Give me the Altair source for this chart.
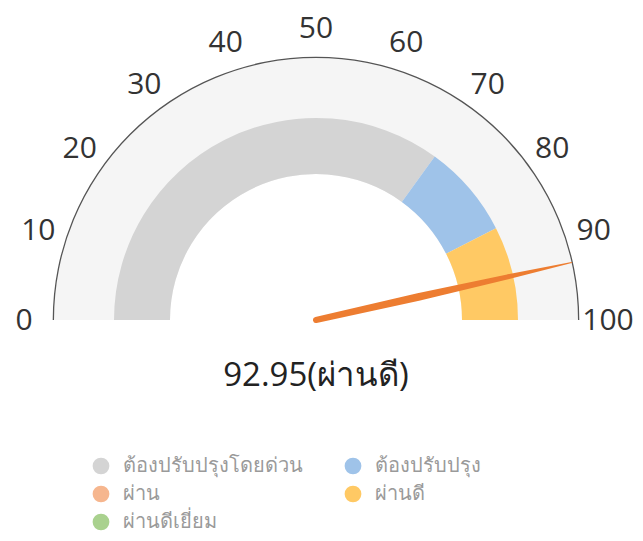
import math
import altair as alt
import pandas as pd

# ---- data ----
categories = ["ต้องปรับปรุงโดยด่วน", "ต้องปรับปรุง", "ผ่าน", "ผ่านดี", "ผ่านดีเยี่ยม"]
band_start = [0, 70, 85, 85, 100]
band_end = [70, 85, 85, 100, 100]
colors = ["#d4d4d4", "#9fc3e9", "#f6b68e", "#ffc964", "#a9d18e"]
# legend is filled column by column: grey, salmon, green | blue, yellow
legend_order = ["ต้องปรับปรุงโดยด่วน", "ผ่าน", "ผ่านดีเยี่ยม", "ต้องปรับปรุง", "ผ่านดี"]
tick_values = [0, 10, 20, 30, 40, 50, 60, 70, 80, 90, 100]
score = 92.95
status = "ผ่านดี"
scale_min, scale_max = 0, 100

# ---- layout (styles) ----
W, H = 627, 517
PAD = {"left": 0, "top": 8, "right": 0, "bottom": 0}
cx, cy = 308, 304
R_OUT = 262
R_BAND_OUT, R_BAND_IN = 202, 146
R_LABEL = 292
FONT = "Open Sans"

theta_scale = alt.Scale(domain=[scale_min, scale_max], range=[-math.pi / 2, math.pi / 2])

bands = pd.DataFrame({"cat": categories, "start": band_start, "end": band_end})
bg = pd.DataFrame({"start": [scale_min], "end": [scale_max]})
ticks = pd.DataFrame({"v": tick_values, "label": [str(t) for t in tick_values]})

ang = math.pi * (1 - (score - scale_min) / (scale_max - scale_min))
needle = pd.DataFrame({
    "t": [0.0, 0.4, 0.75, 1.0],
    "w": [6.0, 7.5, 5.0, 1.0],
})
needle["x"] = needle["t"] * math.cos(ang)
needle["y"] = needle["t"] * math.sin(ang)
title_df = pd.DataFrame({"txt": [f"{score}({status})"]})

color_map = dict(zip(categories, colors))

X = alt.value(cx)
Y = alt.value(cy)

background = alt.Chart(bg).mark_arc(fill="#f5f5f5").encode(
    theta=alt.Theta("start:Q", scale=theta_scale, stack=None),
    theta2="end:Q",
    radius=alt.value(R_BAND_IN),
    radius2=alt.value(R_OUT),
    x=X, y=Y,
)

outline = alt.Chart(bg).mark_arc(fill="#555555").encode(
    theta=alt.Theta("start:Q", scale=theta_scale, stack=None),
    theta2="end:Q",
    radius=alt.value(R_OUT),
    radius2=alt.value(R_OUT + 1.3),
    x=X, y=Y,
)

band_layer = alt.Chart(bands).mark_arc().encode(
    theta=alt.Theta("start:Q", scale=theta_scale, stack=None),
    theta2="end:Q",
    radius=alt.value(R_BAND_IN),
    radius2=alt.value(R_BAND_OUT),
    x=X, y=Y,
    color=alt.Color(
        "cat:N",
        scale=alt.Scale(domain=legend_order, range=[color_map[c] for c in legend_order]),
        legend=alt.Legend(
            title=None,
            orient="none",
            legendX=83,
            legendY=440,
            columns=2,
            columnPadding=40,
            rowPadding=8,
            symbolType="circle",
            symbolSize=280,
            symbolStrokeWidth=0,
            labelFontSize=20,
            labelColor="#9a9a9a",
            labelFont=FONT,
            labelOffset=12,
            labelLimit=300,
        ),
    ),
)

needle_layer = alt.Chart(needle).mark_trail(color="#ed7d31").encode(
    x=alt.X("x:Q", scale=alt.Scale(domain=[-1, 1], range=[cx - R_OUT, cx + R_OUT]), axis=None),
    y=alt.Y("y:Q", scale=alt.Scale(domain=[-1, 1], range=[cy + R_OUT, cy - R_OUT]), axis=None),
    size=alt.Size("w:Q", scale=None),
    order="t:Q",
)

tick_layer = alt.Chart(ticks).mark_text(
    fontSize=30, font=FONT, color="#333333", align="center", baseline="middle", dy=1
).encode(
    theta=alt.Theta("v:Q", scale=theta_scale, stack=None),
    radius=alt.value(R_LABEL),
    x=X, y=Y,
    text="label:N",
)

title_layer = alt.Chart(title_df).mark_text(
    fontSize=33, font=FONT, color="#222222", align="center", baseline="middle"
).encode(
    x=alt.value(cx), y=alt.value(cy + 56), text="txt:N"
)

chart = alt.layer(
    background, outline, band_layer, needle_layer, tick_layer, title_layer
).properties(
    width=W, height=H, padding=PAD, autosize=alt.AutoSizeParams(type="none"), background="white"
).configure_view(stroke=None)

chart.save("out.html", embed_options={"renderer": "svg", "actions": False})
